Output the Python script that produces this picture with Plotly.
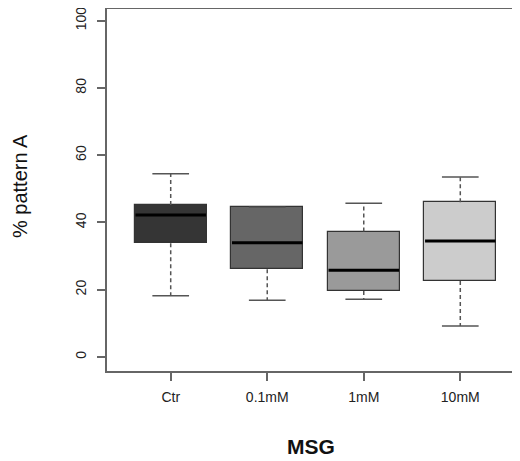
import plotly.graph_objects as go

categories = ["Ctr", "0.1mM", "1mM", "10mM"]
positions = [1, 2, 3, 4]
q1 = [33.8, 26.1, 19.6, 22.6]
median = [42.2, 34.0, 25.8, 34.5]
q3 = [45.2, 44.5, 37.3, 46.0]
lower = [18.2, 16.9, 17.2, 9.2]
upper = [54.5, 44.5, 45.7, 53.5]
fills = ["#353535", "#666666", "#9a9a9a", "#cccccc"]
y_ticks = [0, 20, 40, 60, 80, 100]

BOX_W = 0.75
CAP_W = 0.38

fig = go.Figure()

fig.add_trace(go.Bar(
    x=positions,
    base=q1,
    y=[b - a for a, b in zip(q1, q3)],
    width=BOX_W,
    marker=dict(color=fills, line=dict(color="#333333", width=1.2)),
    hoverinfo="skip",
    showlegend=False,
))

# whiskers (dashed)
wx, wy = [], []
for p, a, b, lo, hi in zip(positions, q1, q3, lower, upper):
    wx += [p, p, None, p, p, None]
    wy += [b, hi, None, a, lo, None]
fig.add_trace(go.Scatter(x=wx, y=wy, mode="lines",
                         line=dict(color="#555555", width=1.5, dash="4px,3px"),
                         hoverinfo="skip", showlegend=False))

# caps
cx, cy = [], []
for p, lo, hi in zip(positions, lower, upper):
    cx += [p - CAP_W / 2, p + CAP_W / 2, None, p - CAP_W / 2, p + CAP_W / 2, None]
    cy += [hi, hi, None, lo, lo, None]
fig.add_trace(go.Scatter(x=cx, y=cy, mode="lines",
                         line=dict(color="#555555", width=1.5),
                         hoverinfo="skip", showlegend=False))

# medians
mx, my = [], []
for p, m in zip(positions, median):
    mx += [p - BOX_W / 2 + 0.01, p + BOX_W / 2 - 0.01, None]
    my += [m, m, None]
fig.add_trace(go.Scatter(x=mx, y=my, mode="lines",
                         line=dict(color="#000000", width=3),
                         hoverinfo="skip", showlegend=False))

FONT = "Liberation Sans, Arial, sans-serif"
axis_font = dict(family=FONT, size=14, color="#222222")

# page coordinates (browser body margin of 8px)
L, T, B_PAGE, R_PAGE = 107, 9, 370.7, 523.6
plot_w = R_PAGE - L
plot_h = B_PAGE - T


def px(xp):
    return (xp - L) / plot_w


def py(yp):
    return (B_PAGE - yp) / plot_h


fig.update_layout(
    width=520, height=461,
    margin=dict(l=L - 8, r=520 - (R_PAGE - 8), t=T - 8, b=461 - (B_PAGE - 8)),
    paper_bgcolor="white", plot_bgcolor="white",
    bargap=0,
    font=dict(family=FONT),
    xaxis=dict(
        range=[0.34, 4.66],
        tickvals=positions, ticktext=categories,
        showline=True, linecolor="#666666", linewidth=1.5, mirror=True,
        ticks="outside", ticklen=8, tickwidth=1.5, tickcolor="#666666",
        showgrid=False, zeroline=False, tickfont=axis_font,
        ticklabelstandoff=4, automargin=False, ticklabeloverflow="allow",
    ),
    yaxis=dict(
        range=[-4.17, -4.17 + plot_h / 3.36],
        tickvals=y_ticks, ticktext=[str(v) for v in y_ticks],
        tickangle=-90,
        showline=True, linecolor="#666666", linewidth=1.5,
        ticks="outside", ticklen=8, tickwidth=1.5, tickcolor="#666666",
        showgrid=False, zeroline=False, tickfont=axis_font,
        ticklabelstandoff=6, automargin=False, ticklabeloverflow="allow",
    ),
    annotations=[
        dict(text="% pattern A", xref="paper", yref="paper",
             x=px(20), y=py(186), textangle=-90,
             showarrow=False, xanchor="center", yanchor="middle",
             font=dict(family=FONT, size=20, color="#111111")),
        dict(text="<b>MSG</b>", xref="paper", yref="paper",
             x=px(311), y=py(446),
             showarrow=False, xanchor="center", yanchor="middle",
             font=dict(family=FONT, size=21, color="#111111")),
    ],
)

fig.write_html("out.html")
